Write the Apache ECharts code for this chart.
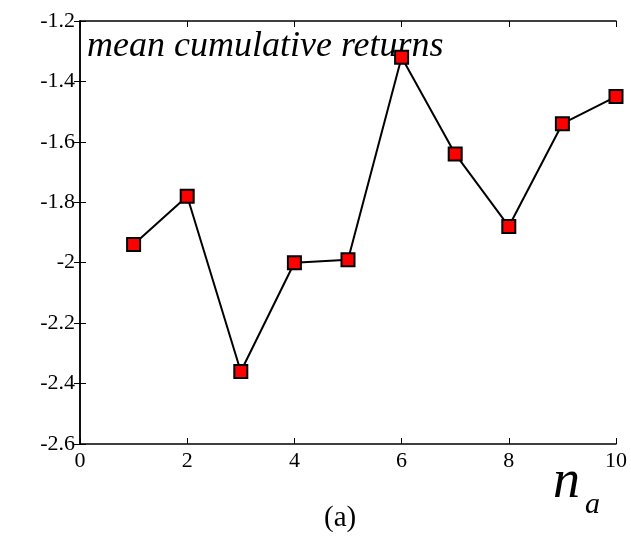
<!DOCTYPE html>
<html>
<head>
<meta charset="utf-8">
<script src="https://cdn.jsdelivr.net/npm/echarts@6/dist/echarts.min.js"></script>
<style>html,body{margin:0;padding:0;background:#fff;}#c{width:631px;height:543px;}</style>
</head>
<body>
<div id="c"></div>
<script>
const xValues = [1, 2, 3, 4, 5, 6, 7, 8, 9, 10];
const meanReturns = [-1.94, -1.78, -2.36, -2.00, -1.99, -1.32, -1.64, -1.88, -1.54, -1.45];
const xTicks = [0, 2, 4, 6, 8, 10];
const yTicks = [-2.6, -2.4, -2.2, -2, -1.8, -1.6, -1.4, -1.2];
const titleText = 'mean cumulative returns';
const captionText = '(a)';

const font = 'Liberation Serif';
const chart = echarts.init(document.getElementById('c'));
const axisCommon = {
  axisLine: { show: true, lineStyle: { color: '#000', width: 1.5 } },
  axisTick: { show: true, inside: true, length: 6, lineStyle: { color: '#000', width: 1 } },
  splitLine: { show: false }
};
chart.setOption({
  animation: false,
  backgroundColor: '#fff',
  grid: { left: 80, right: 15, top: 21, bottom: 99, containLabel: false },
  xAxis: [
    Object.assign({ type: 'value', min: xTicks[0], max: xTicks[xTicks.length - 1], interval: 2, position: 'bottom',
      axisLabel: { color: '#000', fontFamily: font, fontSize: 22, margin: 6 } }, axisCommon),
    Object.assign({ type: 'value', min: xTicks[0], max: xTicks[xTicks.length - 1], interval: 2, position: 'top',
      axisLabel: { show: false } }, axisCommon)
  ],
  yAxis: [
    Object.assign({ type: 'value', min: yTicks[0], max: yTicks[yTicks.length - 1], interval: 0.2, position: 'left',
      axisLabel: { color: '#000', fontFamily: font, fontSize: 22, margin: 5,
        formatter: v => String(Math.round(v * 10) / 10) } }, axisCommon),
    Object.assign({ type: 'value', min: yTicks[0], max: yTicks[yTicks.length - 1], interval: 0.2, position: 'right',
      axisLabel: { show: false } }, axisCommon)
  ],
  series: [{
    type: 'line',
    data: xValues.map((x, i) => [x, meanReturns[i]]),
    symbol: 'rect',
    symbolSize: 13,
    lineStyle: { color: '#000', width: 2 },
    itemStyle: { color: '#ff0000', borderColor: '#000', borderWidth: 2 },
    z: 3
  }],
  graphic: [
    { type: 'text', left: 87, top: 29, style: { text: titleText, fontFamily: font, fontStyle: 'italic', fontSize: 36, fill: '#000' } },
    { type: 'text', left: 553, top: 456, style: { text: 'n', fontFamily: font, fontStyle: 'italic', fontSize: 54, fill: '#000' } },
    { type: 'text', left: 585, top: 490, style: { text: 'a', fontFamily: font, fontStyle: 'italic', fontSize: 30, fill: '#000' } },
    { type: 'text', left: 324, top: 504, style: { text: captionText, fontFamily: font, fontSize: 29, fill: '#000' } }
  ]
});
</script>
</body>
</html>
